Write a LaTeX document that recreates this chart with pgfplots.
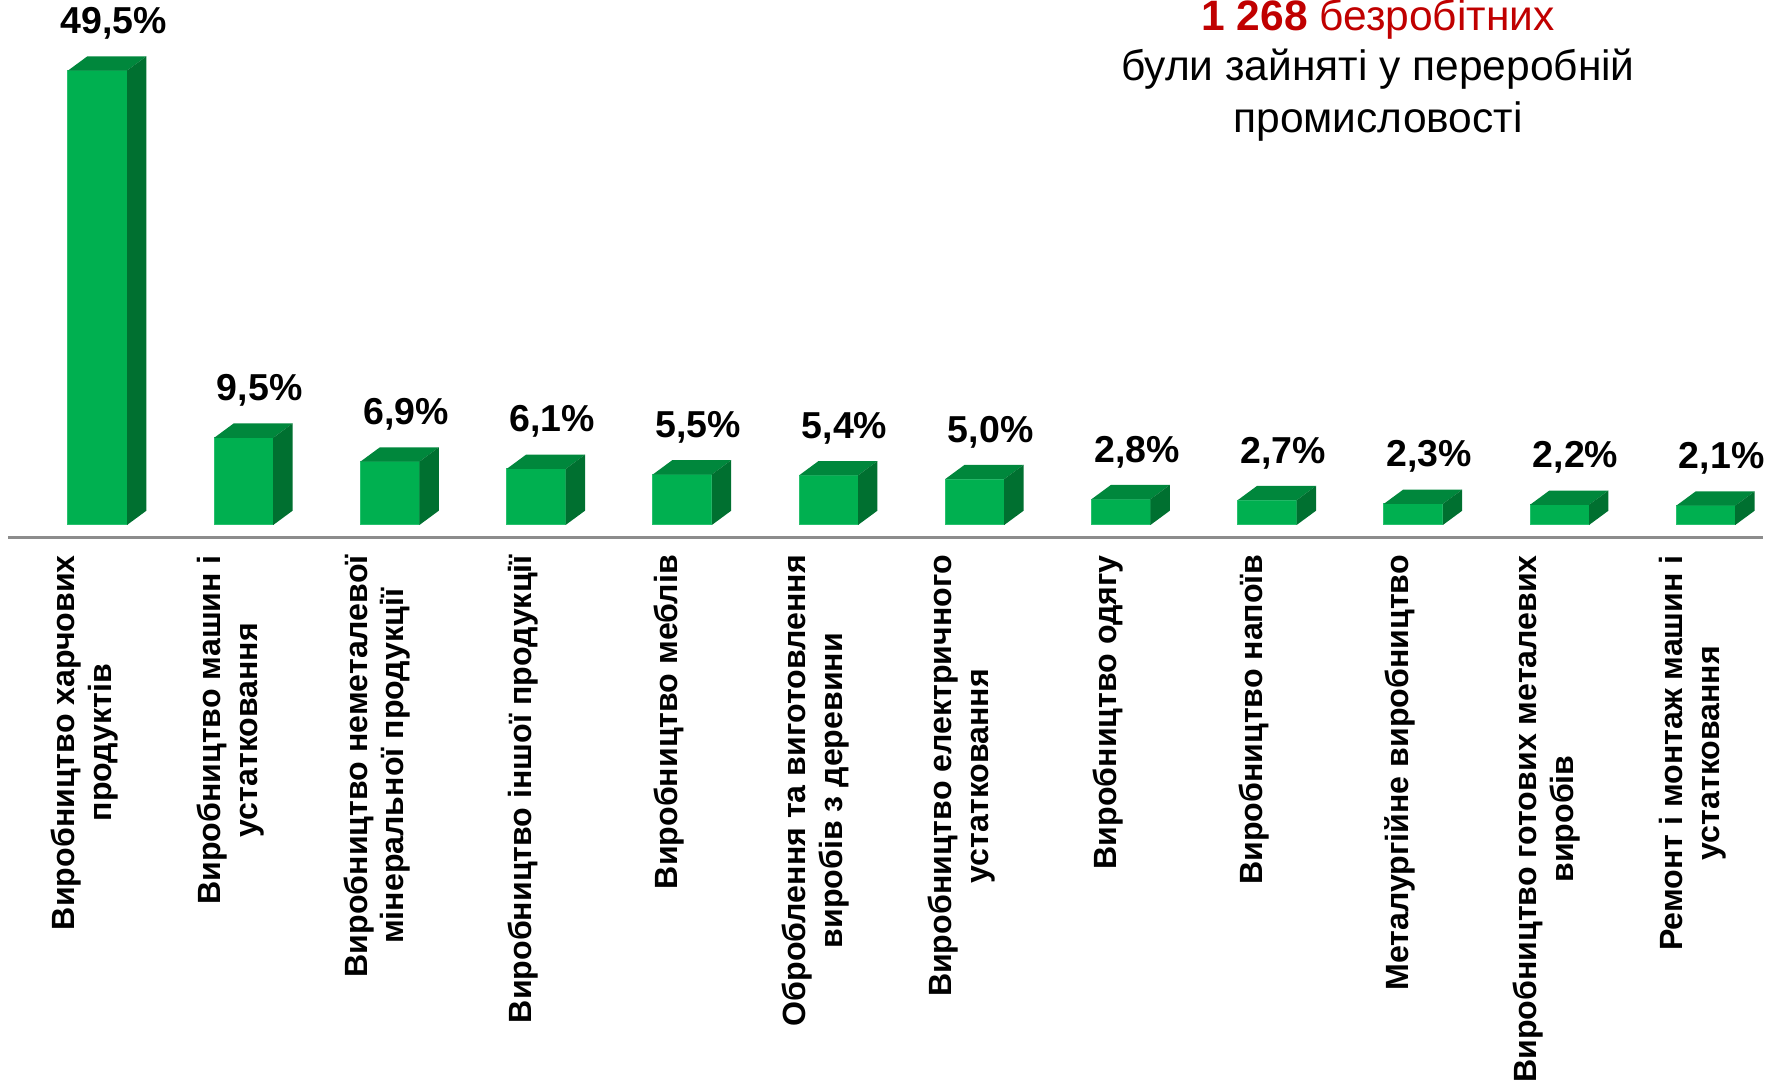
\documentclass[border=0pt]{standalone}
\usepackage{fontspec}
\setmainfont{Liberation Sans}
\usepackage{pgfplots}
\pgfplotsset{compat=1.18}
\usepackage{pgfplotstable}
\definecolor{frontg}{RGB}{0,176,80}
\definecolor{topg}{RGB}{0,135,60}
\definecolor{sideg}{RGB}{0,112,48}
\definecolor{edgeg}{RGB}{40,192,110}
\definecolor{titlered}{RGB}{192,0,0}
\definecolor{axgray}{RGB}{140,140,140}

\pgfplotstableread{
x v
0 49.5
1 9.5
2 6.9
3 6.1
4 5.5
5 5.4
6 5.0
7 2.8
8 2.7
9 2.3
10 2.2
11 2.1
}\datatable

\pgfdeclareplotmark{cube3d}{%
  \pgfmathsetlengthmacro\hh{\val*3.672pt}%
  \pgfsetfillcolor{topg}%
  \pgfpathmoveto{\pgfqpoint{-11.8pt}{0pt}}%
  \pgfpathlineto{\pgfqpoint{11.8pt}{0pt}}%
  \pgfpathlineto{\pgfqpoint{19.56pt}{5.72pt}}%
  \pgfpathlineto{\pgfqpoint{-4.04pt}{5.72pt}}%
  \pgfpathclose
  \pgfusepath{fill}%
  \pgfsetfillcolor{sideg}%
  \pgfpathmoveto{\pgfqpoint{11.8pt}{0pt}}%
  \pgfpathlineto{\pgfpoint{11.8pt}{-\hh}}%
  \pgfpathlineto{\pgfpoint{19.56pt}{-\hh+5.72pt}}%
  \pgfpathlineto{\pgfqpoint{19.56pt}{5.72pt}}%
  \pgfpathclose
  \pgfusepath{fill}%
}

\begin{document}
\begin{tikzpicture}
\begin{axis}[
  anchor=south west, at={(-35.731pt,-5.508pt)},
  x=58.48pt, y=3.672pt,
  xmin=-0.611, xmax=11.393, ymin=-1.5, ymax=52,
  axis line style={draw=none},
  ytick=\empty,
  xtick={0,...,11},
  xticklabels={
    {Виробництво харчових\\продуктів},
    {Виробництво машин і\\устатковання},
    {Виробництво неметалевої\\мінеральної продукції},
    {Виробництво іншої продукції},
    {Виробництво меблів},
    {Оброблення та виготовлення\\виробів з деревини},
    {Виробництво електричного\\устатковання},
    {Виробництво одягу},
    {Виробництво напоїв},
    {Металургійне виробництво},
    {Виробництво готових металевих\\виробів},
    {Ремонт і монтаж машин і\\устатковання}},
  major tick length=0pt,
  clip=false,
  xticklabel style={font=\bfseries\fontsize{12.85}{14.6}\selectfont, align=center, inner sep=0pt, xshift=-5.2pt, yshift=-6.4pt, rotate=90, anchor=east},
]
\addplot[ybar, bar width=23.6pt, bar shift=0pt, fill=frontg, draw=edgeg, line width=0.4pt] table[x=x,y=v]{\datatable};
\addplot[only marks, mark=cube3d,
  visualization depends on={\thisrow{v} \as \val},
  point meta=y,
  nodes near coords={\pgfmathprintnumber[fixed,fixed zerofill,precision=1,use comma,assume math mode=true]{\pgfplotspointmeta}\%},
  nodes near coords style={anchor=base, xshift=6.4pt, yshift=14.8pt, inner sep=0pt, font=\bfseries\fontsize{15}{18}\selectfont, text=black}
] table[x=x,y=v]{\datatable};
\addplot[axgray, line width=1.1pt, no marks] coordinates {(-0.611,-1.38) (11.393,-1.38)};
\end{axis}
\node[anchor=base, font=\fontsize{17}{20}\selectfont, text=titlered, inner sep=0pt] at (512.2pt,197.6pt) {\textbf{1 268} безробітних};
\node[anchor=base, font=\fontsize{17}{20}\selectfont, inner sep=0pt] at (512.2pt,177.6pt) {були зайняті у переробній};
\node[anchor=base, font=\fontsize{17}{20}\selectfont, inner sep=0pt] at (512.2pt,156.8pt) {промисловості};
\pgfresetboundingbox
\path[use as bounding box] (-39pt,-222.4pt) rectangle (669.4pt,210pt);
\end{tikzpicture}
\end{document}
